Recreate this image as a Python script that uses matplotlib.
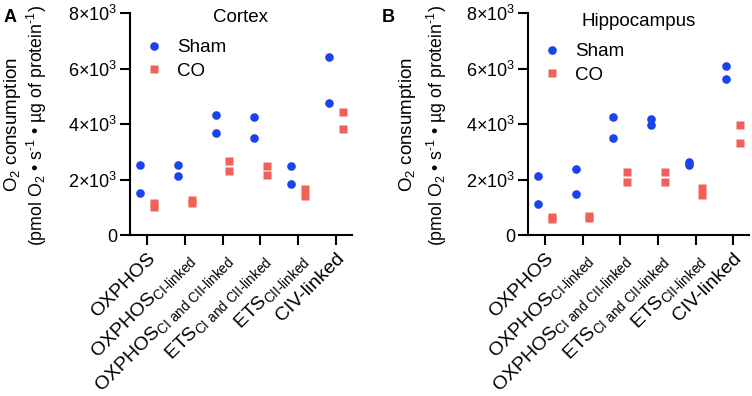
import matplotlib
matplotlib.use("Agg")
import matplotlib.pyplot as plt
import numpy as np

plt.rcParams['font.family'] = ['Liberation Sans', 'DejaVu Sans']
plt.rcParams['mathtext.fontset'] = 'custom'
plt.rcParams['mathtext.rm'] = 'Liberation Sans'
plt.rcParams['mathtext.it'] = 'Liberation Sans:italic'
plt.rcParams['mathtext.bf'] = 'Liberation Sans:bold'

categories = ["OXPHOS", r"OXPHOS$_{\text{CI-linked}}$", r"OXPHOS$_{\text{CI and CII-linked}}$",
              r"ETS$_{\text{CI and CII-linked}}$", r"ETS$_{\text{CII-linked}}$", "CIV-linked"]

cortex_sham = [[2530, 1500], [2540, 2130], [4330, 3670], [4270, 3490], [2500, 1840], [6410, 4750]]
cortex_co = [[1150, 1020], [1250, 1150], [2670, 2310], [2500, 2170], [1650, 1410], [4420, 3810]]
hippo_sham = [[2110, 1110], [2370, 1470], [4250, 3490], [4180, 3950], [2620, 2540], [6080, 5630]]
hippo_co = [[660, 560], [690, 600], [2260, 1900], [2260, 1900], [1710, 1440], [3960, 3310]]

yticks = [0, 2000, 4000, 6000, 8000]
yticklabels = ["0", r"2×10$^3$", r"4×10$^3$", r"6×10$^3$", r"8×10$^3$"]

blue = "#1b44ee"
red = "#f2605a"

W, H = 752, 396
fig = plt.figure(figsize=(W / 100, H / 100), dpi=100)

def px_axes(l, r, t, b):
    return fig.add_axes([l / W, 1 - b / H, (r - l) / W, (b - t) / H])

panels = [
    dict(ax=px_axes(130, 352, 13, 235), sham=cortex_sham, co=cortex_co, title="Cortex",
         ty=17, letter="A", lx=4, ylx=(13, 37), leg=(143, 48)),
    dict(ax=px_axes(528, 749, 13, 235), sham=hippo_sham, co=hippo_co, title="Hippocampus",
         ty=22, letter="B", lx=382, ylx=(407, 437), leg=(541, 52)),
]

off = 0.18
for p in panels:
    ax = p['ax']
    x = np.arange(len(categories))
    for i in range(len(categories)):
        ax.plot([x[i] - off] * len(p['sham'][i]), p['sham'][i], 'o', color=blue, ms=6.2, mec='none',
                label="Sham" if i == 0 else None, clip_on=False)
        ax.plot([x[i] + off] * len(p['co'][i]), p['co'][i], 's', color=red, ms=6.2, mec='none',
                label="CO" if i == 0 else None, clip_on=False)
    ax.set_xlim(-0.45, 5.42)
    ax.set_ylim(0, 8000)
    ax.set_yticks(yticks)
    ax.set_yticklabels(yticklabels, fontsize=13)
    ax.set_xticks(x)
    ax.set_xticklabels(categories, rotation=45, ha='right', rotation_mode='anchor', fontsize=14)
    ax.spines['top'].set_visible(False)
    ax.spines['right'].set_visible(False)
    for s in ['left', 'bottom']:
        ax.spines[s].set_linewidth(1.5)
    ax.tick_params(axis='both', length=7, width=1.5, pad=2)
    ax.tick_params(axis='x', pad=4)
    bb = ax.get_position()
    cx = (bb.x0 + bb.x1) / 2
    fig.text(cx, 1 - p['ty'] / H, p['title'], ha='center', va='center', fontsize=13.5)
    lx, ly = p['leg']
    ax.legend(loc='upper left', bbox_to_anchor=(lx / W, 1 - (ly - 9) / H), bbox_transform=fig.transFigure,
              frameon=False, fontsize=13.5, handletextpad=0.6, labelspacing=0.35, borderaxespad=0,
              borderpad=0, handlelength=1.2)
    fig.text(p['lx'] / W, 1 - 17 / H, p['letter'], fontsize=13, fontweight='bold', ha='left', va='center')
    cy = 1 - 125 / H
    fig.text(p['ylx'][0] / W, cy, r"O$_2$ consumption", rotation=90, ha='center', va='center', fontsize=13.5)
    fig.text(p['ylx'][1] / W, cy, r"(pmol O$_2$ • s$^{\text{-1}}$ • µg of protein$^{\text{-1}}$)", rotation=90,
             ha='center', va='center', fontsize=12.8)

fig.savefig("out.png", dpi=100)
